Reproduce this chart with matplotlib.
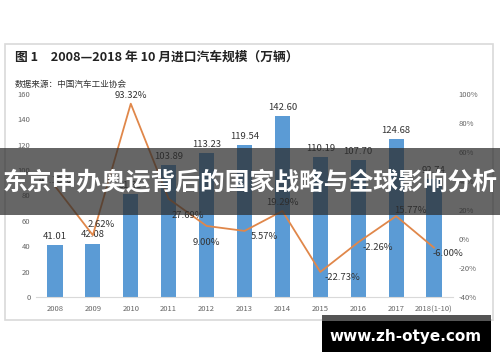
import matplotlib.pyplot as plt
from matplotlib.patches import Rectangle
import numpy as np

plt.rcParams['font.family'] = ['Noto Sans CJK SC', 'DejaVu Sans']

# data
years = ['2008', '2009', '2010', '2011', '2012', '2013', '2014', '2015', '2016', '2017', '2018(1-10)']
volume = [41.01, 42.08, 81.35, 103.89, 113.23, 119.54, 142.60, 110.19, 107.70, 124.68, 92.74]
growth = [36.5, 2.62, 93.32, 27.69, 9.00, 5.57, 19.29, -22.73, -2.26, 15.77, -6.00]
growth_labels = ['40.16%', '2.62%', '93.32%', '27.69%', '9.00%', '5.57%', '19.29%',
                 '-22.73%', '-2.26%', '15.77%', '-6.00%']
# label offsets (points) for the growth labels
growth_offsets = [(0, 4), (6, 8), (0, 6), (14, -12), (0, -12), (14, -4), (0, 6),
                  (16, -4), (14, -4), (10, 4), (10, -4)]

W, H = 500, 362
fig = plt.figure(figsize=(W / 100, H / 100), dpi=100)
fig.patch.set_facecolor('white')

def px(x0, y0, w, h):
    return [x0 / W, 1 - (y0 + h) / H, w / W, h / H]

# outer frame
fig.patches.append(Rectangle((5 / W, 1 - 320 / H), 488 / W, 276 / H, transform=fig.transFigure,
                             facecolor='none', edgecolor='#d9d9d9', lw=1.2, zorder=-1))

fig.text(15 / W, 1 - 57 / H, '图 1　2008—2018 年 10 月进口汽车规模（万辆）', fontsize=9.2,
         fontweight='bold', color='#222222', va='center', ha='left')
fig.text(15 / W, 1 - 84 / H, '数据来源：中国汽车工业协会', fontsize=6.2, color='#333333',
         va='center', ha='left')

ax = fig.add_axes(px(36, 94, 417, 203))
ax.patch.set_alpha(0)
x = np.arange(len(years))
ax.bar(x, volume, width=0.4, color='#5b9bd5', zorder=2)
ax.set_xlim(-0.5, len(years) - 0.5)
ax.set_ylim(0, 160)
ax.set_yticks(range(0, 161, 20))
ax.set_xticks(x)
ax.set_xticklabels(years)
for s in ['top', 'right', 'left']:
    ax.spines[s].set_visible(False)
ax.spines['bottom'].set_color('#d9d9d9')
ax.tick_params(axis='both', length=0, labelsize=5.5, colors='#666666')
ax.tick_params(axis='y', pad=4)
ax.tick_params(axis='x', pad=6)
for xi, v in zip(x, volume):
    ax.annotate(f'{v:.2f}', (xi, v), xytext=(0, 3), textcoords='offset points',
                ha='center', va='bottom', fontsize=6.8, color='#333333')

ax2 = ax.twinx()
ax2.plot(x, growth, color='#e0874a', lw=1.3, zorder=3)
ax2.set_ylim(-40, 100)
ax2.set_yticks(range(-40, 101, 20))
ax2.set_yticklabels([f'{t}%' for t in range(-40, 101, 20)])
for s in ['top', 'right', 'left', 'bottom']:
    ax2.spines[s].set_visible(False)
ax2.tick_params(axis='y', length=0, labelsize=5.5, colors='#666666', pad=4)
for xi, g, lab, off in zip(x, growth, growth_labels, growth_offsets):
    ax2.annotate(lab, (xi, g), xytext=off, textcoords='offset points',
                 ha='center', va='center', fontsize=6.8, color='#333333')

# overlay band with headline
fig.patches.append(Rectangle((0, 1 - 215 / H), 1, 67 / H, transform=fig.transFigure,
                             facecolor='#2b2b2b', alpha=0.72, edgecolor='none', zorder=10))
fig.text(0.5, 1 - 182 / H, '东京申办奥运背后的国家战略与全球影响分析', fontsize=17.8,
         fontweight='bold', color='white', ha='center', va='center', zorder=11)

# watermark box
fig.patches.append(Rectangle((322 / W, 1 - 352 / H), 169 / W, 37 / H, transform=fig.transFigure,
                             facecolor='black', edgecolor='none', zorder=10))
fig.patches.append(Rectangle((322 / W, 1 - 321 / H), 169 / W, 6 / H, transform=fig.transFigure,
                             facecolor='#555555', edgecolor='none', zorder=10))
fig.text(406 / W, 1 - 336 / H, 'www.zh-otye.com', fontsize=11, fontweight='bold',
         color='white', ha='center', va='center', zorder=11, family='DejaVu Sans')

fig.savefig('out.png', dpi=100)
